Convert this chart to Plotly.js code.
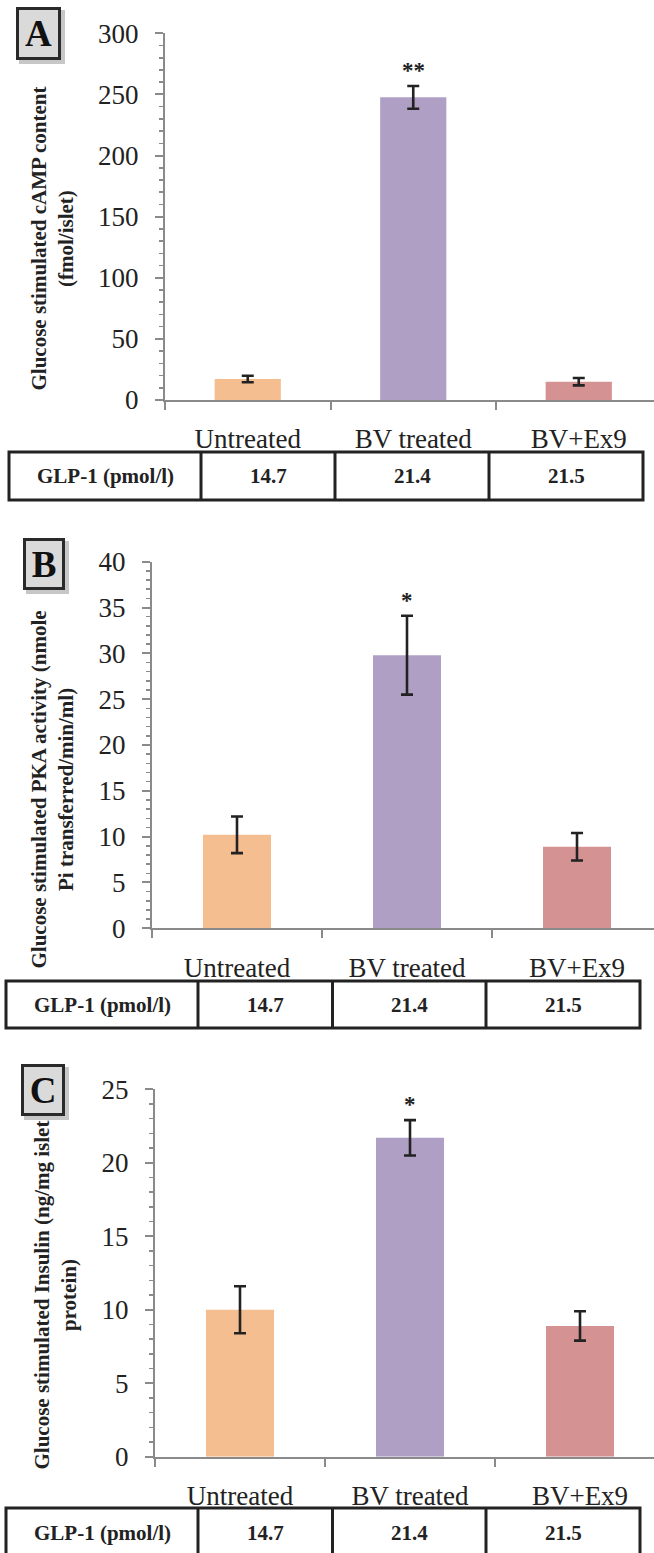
<!DOCTYPE html>
<html>
<head>
<meta charset="utf-8">
<script src="https://cdn.plot.ly/plotly-3.0.1.min.js"></script>
<style>
html,body{margin:0;padding:0;background:#fff;}
#chart{width:654px;height:1553px;}
</style>
</head>
<body>
<div id="chart"></div>
<script>
// ---- data ----
const categories = ["Untreated", "BV treated", "BV+Ex9"];
const barColors = ["#F4BE91", "#AF9FC4", "#D49292"];

const campValues = [17.2, 247.6, 15.0];
const campErrors = [2.7, 9.3, 3.0];
const campSig = ["", "**", ""];

const pkaValues = [10.2, 29.8, 8.9];
const pkaErrors = [2.0, 4.3, 1.5];
const pkaSig = ["", "*", ""];

const insulinValues = [10.0, 21.7, 8.9];
const insulinErrors = [1.6, 1.2, 1.0];
const insulinSig = ["", "*", ""];

const glp1Label = "GLP-1 (pmol/l)";
const glp1Values = ["14.7", "21.4", "21.5"];

const panelLetters = ["A", "B", "C"];
const yTitles = [
  "Glucose stimulated cAMP content<br>(fmol/islet)",
  "Glucose stimulated PKA activity (nmole<br>Pi transferred/min/ml)",
  "Glucose stimulated Insulin (ng/mg islet<br>protein)"
];

// ---- layout helpers (pixel -> paper) ----
const W = 654, H = 1553;
const PX = v => v / W;
const PY = v => 1 - v / H;
const FONT = "Liberation Serif";
const AXIS_COLOR = "#8a8a8a";
const INK = "#222";

const panels = [
  {values: campValues, errors: campErrors, sig: campSig, ymax: 300, dtick: 50, minor: 10,
   axisX: 165, zeroY: 400, topY: 33.3, cat: 165.5,
   letter: {x0: 16, x1: 61, y0: 7, y1: 60},
   title: {x: 51.5, y: 239},
   table: {l: 9, r: 643, t: 452, b: 500, div: [201, 335, 489], label: 105, ty: 476}},
  {values: pkaValues, errors: pkaErrors, sig: pkaSig, ymax: 40, dtick: 5, minor: 1,
   axisX: 152, zeroY: 928.3, topY: 561.7, cat: 170,
   letter: {x0: 23, x1: 65, y0: 538, y1: 590},
   title: {x: 51.5, y: 790},
   table: {l: 6, r: 640, t: 981, b: 1028, div: [198, 332.5, 486], label: 102, ty: 1005}},
  {values: insulinValues, errors: insulinErrors, sig: insulinSig, ymax: 25, dtick: 5, minor: 1,
   axisX: 155, zeroY: 1456.7, topY: 1089.3, cat: 170,
   letter: {x0: 21, x1: 65, y0: 1064, y1: 1116},
   title: {x: 54.5, y: 1295},
   table: {l: 6, r: 640, t: 1508, b: 1562, div: [198, 332.5, 486], label: 102, ty: 1533}}
];

const traces = [];
const layout = {
  width: W, height: H,
  margin: {l: 0, r: 0, t: 0, b: 0},
  paper_bgcolor: "#fff", plot_bgcolor: "rgba(0,0,0,0)",
  showlegend: false,
  font: {family: FONT, color: INK},
  annotations: [], shapes: []
};

panels.forEach((p, i) => {
  const n = i === 0 ? "" : String(i + 1);
  const xa = "x" + n, ya = "y" + n;
  traces.push({
    type: "bar", x: categories, y: p.values, xaxis: xa, yaxis: ya,
    width: 0.4,
    marker: {color: barColors, line: {width: 0}},
    error_y: {type: "data", array: p.errors, visible: true, color: INK, thickness: 2.6, width: 6},
    hoverinfo: "skip"
  });
  const span = (W - p.axisX) / p.cat;
  layout["xaxis" + n] = {
    domain: [PX(p.axisX), 1], range: [-0.5, -0.5 + span], anchor: ya,
    type: "category", showgrid: false, zeroline: false,
    showline: true, linecolor: AXIS_COLOR, linewidth: 2,
    ticks: "outside", tickson: "boundaries", ticklen: 8, tickwidth: 2, tickcolor: AXIS_COLOR,
    tickfont: {family: FONT, size: 27, color: INK}, ticklabelstandoff: 14,
    fixedrange: true
  };
  layout["yaxis" + n] = {
    domain: [PY(p.zeroY), PY(p.topY)], range: [0, p.ymax], anchor: xa,
    showgrid: false, zeroline: false,
    showline: true, linecolor: AXIS_COLOR, linewidth: 2,
    ticks: "outside", ticklen: 8, tickwidth: 2, tickcolor: AXIS_COLOR,
    dtick: p.dtick, tick0: 0,
    minor: {dtick: p.minor, ticks: "outside", ticklen: 4, tickwidth: 1.5, tickcolor: AXIS_COLOR},
    tickfont: {family: FONT, size: 27, color: INK}, ticklabelstandoff: 11,
    fixedrange: true
  };
  // significance markers
  p.sig.forEach((s, k) => {
    if (!s) return;
    layout.annotations.push({
      xref: xa, yref: ya, x: categories[k], y: p.values[k] + p.errors[k],
      text: "<b>" + s + "</b>", showarrow: false, yanchor: "bottom", yshift: 1,
      font: {family: FONT, size: 23, color: INK}
    });
  });
  // y title
  layout.annotations.push({
    xref: "paper", yref: "paper", x: PX(p.title.x), y: PY(p.title.y),
    xanchor: "center", yanchor: "middle", textangle: -90, showarrow: false,
    text: "<b>" + yTitles[i] + "</b>", align: "center",
    font: {family: FONT, size: 21, color: INK}
  });
  // panel letter shadow + box
  const L = p.letter;
  layout.shapes.push({
    type: "rect", xref: "paper", yref: "paper", layer: "above",
    x0: PX(L.x0 + 3), x1: PX(L.x1 + 4), y0: PY(L.y1 + 4), y1: PY(L.y0 + 3),
    fillcolor: "rgba(0,0,0,0.22)", line: {width: 0}
  });
  layout.annotations.push({
    xref: "paper", yref: "paper", x: PX((L.x0 + L.x1) / 2), y: PY((L.y0 + L.y1) / 2),
    xanchor: "center", yanchor: "middle", showarrow: false,
    text: "<b>" + panelLetters[i] + "</b>",
    width: L.x1 - L.x0 - 6, height: L.y1 - L.y0 - 6, borderpad: 0,
    bgcolor: "#dadada", bordercolor: "#2a2a2a", borderwidth: 3,
    font: {family: FONT, size: 37, color: "#111"}
  });
  // GLP-1 table
  const T = p.table;
  const lineStyle = {color: INK, width: 3};
  layout.shapes.push({type: "rect", xref: "paper", yref: "paper", layer: "above",
    x0: PX(T.l), x1: PX(T.r), y0: PY(T.b), y1: PY(T.t), line: lineStyle, fillcolor: "rgba(0,0,0,0)"});
  T.div.forEach(d => layout.shapes.push({type: "line", xref: "paper", yref: "paper", layer: "above",
    x0: PX(d), x1: PX(d), y0: PY(T.b), y1: PY(T.t), line: lineStyle}));
  layout.annotations.push({xref: "paper", yref: "paper", x: PX(T.label), y: PY(T.ty),
    xanchor: "center", yanchor: "middle", showarrow: false,
    text: "<b>" + glp1Label + "</b>", font: {family: FONT, size: 21, color: INK}});
  const edges = [T.div[0], T.div[1], T.div[2], T.r];
  glp1Values.forEach((v, k) => {
    layout.annotations.push({xref: "paper", yref: "paper", x: PX((edges[k] + edges[k + 1]) / 2), y: PY(T.ty),
      xanchor: "center", yanchor: "middle", showarrow: false,
      text: "<b>" + v + "</b>", font: {family: FONT, size: 21, color: INK}});
  });
});

Plotly.newPlot("chart", traces, layout, {staticPlot: true, displayModeBar: false});
</script>
</body>
</html>
